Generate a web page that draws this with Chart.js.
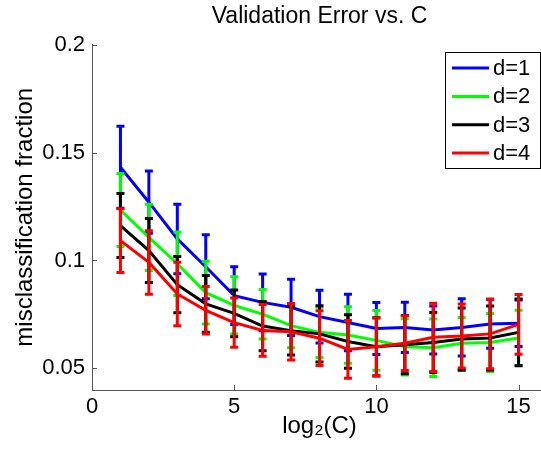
<!DOCTYPE html>
<html>
<head>
<meta charset="utf-8">
<script src="https://cdn.jsdelivr.net/npm/chart.js@4"></script>
<style>
  html, body { margin: 0; padding: 0; overflow: hidden; background: #fff; }
  #wrap { width: 541px; height: 449px; overflow: hidden; }
</style>
</head>
<body>
<div id="wrap"><canvas id="chartOne" width="639" height="449"></canvas></div>
<script>
const logC = [1, 2, 3, 4, 5, 6, 7, 8, 9, 10, 11, 12, 13, 14, 15];
const seriesLabels = ['d=1', 'd=2', 'd=3', 'd=4'];

const errD1 = [0.1432, 0.127, 0.110, 0.0971, 0.0837, 0.0806, 0.0783, 0.074, 0.0713, 0.0685, 0.069, 0.0678, 0.069, 0.0706, 0.0709];
const errD2 = [0.1234, 0.1107, 0.0985, 0.0851, 0.0792, 0.0751, 0.0698, 0.0667, 0.0655, 0.063, 0.06, 0.0596, 0.0616, 0.062, 0.0641];
const errD3 = [0.1162, 0.1046, 0.0888, 0.0799, 0.0755, 0.0696, 0.0675, 0.066, 0.0625, 0.06, 0.061, 0.062, 0.0636, 0.0641, 0.0667];
const errD4 = [0.1092, 0.0991, 0.0845, 0.0769, 0.0712, 0.0676, 0.067, 0.064, 0.0588, 0.06, 0.0617, 0.0644, 0.065, 0.066, 0.0704];

// half length of each error bar
const stdD1 = [0.019, 0.0144, 0.0161, 0.0148, 0.0134, 0.0131, 0.013, 0.0122, 0.0131, 0.012, 0.0116, 0.0111, 0.0133, 0.0113, 0.0108];
const stdD2 = [0.0169, 0.0153, 0.0147, 0.0145, 0.0133, 0.0115, 0.0102, 0.0116, 0.0131, 0.0138, 0.013, 0.0133, 0.012, 0.0134, 0.0128];
const stdD3 = [0.0148, 0.0148, 0.013, 0.0131, 0.0108, 0.0114, 0.0113, 0.013, 0.0124, 0.0135, 0.0135, 0.0139, 0.0144, 0.0148, 0.0155];
const stdD4 = [0.0148, 0.0147, 0.0147, 0.011, 0.0114, 0.012, 0.0131, 0.0127, 0.0134, 0.0134, 0.0127, 0.0158, 0.0148, 0.0162, 0.0138];

const xTickValues = [0, 5, 10, 15];
const yTickValues = [0.05, 0.1, 0.15, 0.2];

const lineColors = ['#0000ff', '#00ff00', '#000000', '#ff0000'];
const fontFamily = "'Liberation Sans', Helvetica, Arial, sans-serif";

const means = [errD1, errD2, errD3, errD4];
const spreads = [stdD1, stdD2, stdD3, stdD4];

const datasets = seriesLabels.map((label, k) => ({
    label: label,
    data: logC.map((c, i) => ({ x: c, y: means[k][i] })),
    errors: spreads[k],
    borderColor: lineColors[k],
    backgroundColor: lineColors[k],
    borderWidth: 3,
    pointRadius: 0,
    tension: 0,
    clip: false,
    order: seriesLabels.length - 1 - k
}));

const errorBars = {
    id: 'errorBars',
    beforeDatasetDraw(chart, args) {
        const ds = chart.data.datasets[args.index];
        const xScale = chart.scales.x;
        const yScale = chart.scales.y;
        const ctx = chart.ctx;
        ctx.save();
        ctx.strokeStyle = ds.borderColor;
        ctx.lineWidth = 3;
        ctx.beginPath();
        ds.data.forEach((p, i) => {
            const px = xScale.getPixelForValue(p.x);
            const top = yScale.getPixelForValue(p.y + ds.errors[i]);
            const bot = yScale.getPixelForValue(p.y - ds.errors[i]);
            ctx.moveTo(px, top);
            ctx.lineTo(px, bot);
            ctx.moveTo(px - 4, top);
            ctx.lineTo(px + 4, top);
            ctx.moveTo(px - 4, bot);
            ctx.lineTo(px + 4, bot);
        });
        ctx.stroke();
        ctx.restore();
    }
};

const axisExtras = {
    id: 'axisExtras',
    afterDraw(chart) {
        const { ctx, chartArea, scales } = chart;
        ctx.save();

        // inward tick marks
        ctx.strokeStyle = '#555';
        ctx.lineWidth = 1;
        ctx.beginPath();
        yTickValues.forEach(v => {
            const py = Math.round(scales.y.getPixelForValue(v)) + 0.5;
            ctx.moveTo(chartArea.left, py);
            ctx.lineTo(chartArea.left + 5, py);
        });
        xTickValues.forEach(v => {
            const px = Math.round(scales.x.getPixelForValue(v)) + 0.5;
            ctx.moveTo(px, chartArea.bottom);
            ctx.lineTo(px, chartArea.bottom - 5);
        });
        ctx.stroke();

        // legend box
        const boxW = 95;
        const boxH = 116;
        const boxLeft = chartArea.right - 7 - boxW;
        const boxTop = chartArea.top + 7;
        ctx.fillStyle = '#fff';
        ctx.fillRect(boxLeft, boxTop, boxW, boxH);
        ctx.strokeStyle = '#000';
        ctx.lineWidth = 1;
        ctx.strokeRect(Math.round(boxLeft) + 0.5, Math.round(boxTop) + 0.5, boxW, boxH);

        ctx.font = '22px ' + fontFamily;
        ctx.textBaseline = 'middle';
        ctx.textAlign = 'left';
        chart.data.datasets.forEach((ds, k) => {
            const rowY = boxTop + 16.5 + k * 28.3;
            ctx.strokeStyle = ds.borderColor;
            ctx.lineWidth = 3;
            ctx.beginPath();
            ctx.moveTo(boxLeft + 7, rowY);
            ctx.lineTo(boxLeft + 44, rowY);
            ctx.stroke();
            ctx.fillStyle = '#000';
            ctx.fillText(ds.label, boxLeft + 48, rowY + 1);
        });
        ctx.restore();
    }
};

const ctxOne = document.getElementById('chartOne').getContext('2d');

const errorChart = new Chart(ctxOne, {
    type: 'line',
    data: { datasets: datasets },
    options: {
        responsive: false,
        animation: false,
        layout: { padding: { left: 0, right: 92, top: 0, bottom: 0 } },
        plugins: {
            legend: { display: false },
            tooltip: { enabled: false },
            title: {
                display: true,
                text: 'Validation Error vs. C',
                color: '#000',
                fullSize: false,
                font: { family: fontFamily, size: 23, weight: 'normal' },
                padding: { top: 3, bottom: 14 }
            }
        },
        scales: {
            x: {
                type: 'linear',
                min: 0,
                max: 16,
                grid: { display: false, drawTicks: false },
                border: { display: true, color: '#555', width: 1 },
                ticks: {
                    color: '#000',
                    padding: 4,
                    maxRotation: 0,
                    autoSkip: false,
                    font: { family: fontFamily, size: 22 }
                },
                afterBuildTicks: axis => { axis.ticks = xTickValues.map(v => ({ value: v })); },
                afterFit: axis => { axis.height = 59; },
                title: {
                    display: true,
                    text: 'log\u2082(C)',
                    color: '#000',
                    font: { family: fontFamily, size: 24 },
                    padding: { top: 0, bottom: 8 }
                }
            },
            y: {
                min: 0.04,
                max: 0.2,
                grid: { display: false, drawTicks: false },
                border: { display: true, color: '#555', width: 1 },
                ticks: {
                    color: '#000',
                    padding: 7,
                    font: { family: fontFamily, size: 22 },
                    callback: v => String(v)
                },
                afterBuildTicks: axis => { axis.ticks = yTickValues.map(v => ({ value: v })); },
                afterFit: axis => { axis.width = 92; },
                title: {
                    display: true,
                    text: 'misclassification fraction',
                    color: '#000',
                    font: { family: fontFamily, size: 24 },
                    padding: { top: 11, bottom: 0 }
                }
            }
        }
    },
    plugins: [errorBars, axisExtras]
});
</script>
</body>
</html>
